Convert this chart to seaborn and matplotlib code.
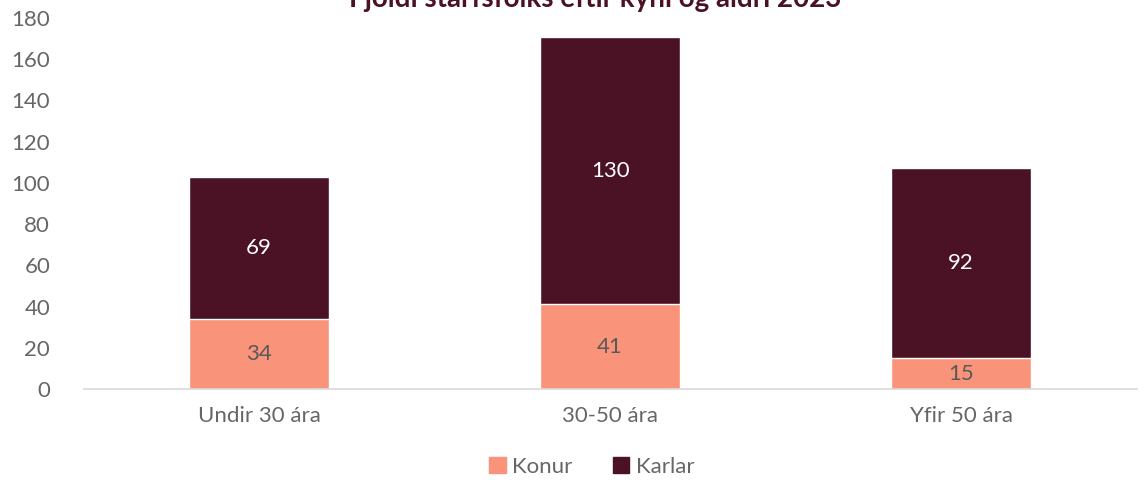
# -*- coding: utf-8 -*-

import seaborn as sns
import matplotlib.pyplot as plt
import pandas as pd
from matplotlib.patches import Patch

# data
aldur = ['Undir 30 ára', '30-50 ára', 'Yfir 50 ára']
konur = [34, 41, 15]
karlar = [69, 130, 92]
yticks = [0, 20, 40, 60, 80, 100, 120, 140, 160, 180]
title = 'Fjöldi starfsfólks eftir kyni og aldri 2023'

colKonur = '#F9937A'
colKarlar = '#4A1224'
textGray = '#666666'

df = pd.DataFrame({'Aldur': aldur, 'Konur': konur, 'Karlar': karlar})
df['Samtals'] = df['Konur'] + df['Karlar']

sns.set_style("white")
plt.rcParams['font.family'] = ['Lato', 'DejaVu Sans']

fig = plt.figure(figsize=(11.47, 4.8), dpi=100)
ax = fig.add_axes([0.0728, 0.1896, 0.9182, 0.7729])

# stacked: total first, konur on top of it
sns.barplot(x='Aldur', y='Samtals', data=df, color=colKarlar, saturation=1.0,
            width=0.4, ax=ax)
sns.barplot(x='Aldur', y='Konur', data=df, color=colKonur, saturation=1.0,
            width=0.4, ax=ax)

for i, (k, m) in enumerate(zip(konur, karlar)):
    ax.text(i, k / 2, str(k), ha='center', va='center', fontsize=16, color='#595959')
    ax.text(i, k + m / 2, str(m), ha='center', va='center', fontsize=16, color='white')

ax.set_ylim(0, 180)
ax.set_yticks(yticks)
ax.set_xlim(-0.5, 2.5)
ax.set_xlabel('')
ax.set_ylabel('')
ax.tick_params(axis='both', length=0, labelsize=16, labelcolor=textGray)
ax.tick_params(axis='x', pad=12)
ax.tick_params(axis='y', pad=24)
for s in ['top', 'right', 'left']:
    ax.spines[s].set_visible(False)
ax.spines['bottom'].set_color('#d9d9d9')
ax.spines['bottom'].set_linewidth(1.2)

# title is clipped at the top of the image, as in the source
fig.text(0.519, 0.985, title, ha='center', va='baseline', fontsize=20,
         fontweight='bold', color=colKarlar)

handles = [Patch(color=colKonur, label='Konur'), Patch(color=colKarlar, label='Karlar')]
fig.legend(handles=handles, loc='center', bbox_to_anchor=(0.516, 0.027), ncol=2,
           frameon=False, fontsize=16, handlelength=0.75, handleheight=0.75,
           handletextpad=0.3, columnspacing=1.8, labelcolor=textGray)

plt.savefig('out.png', dpi=100)
